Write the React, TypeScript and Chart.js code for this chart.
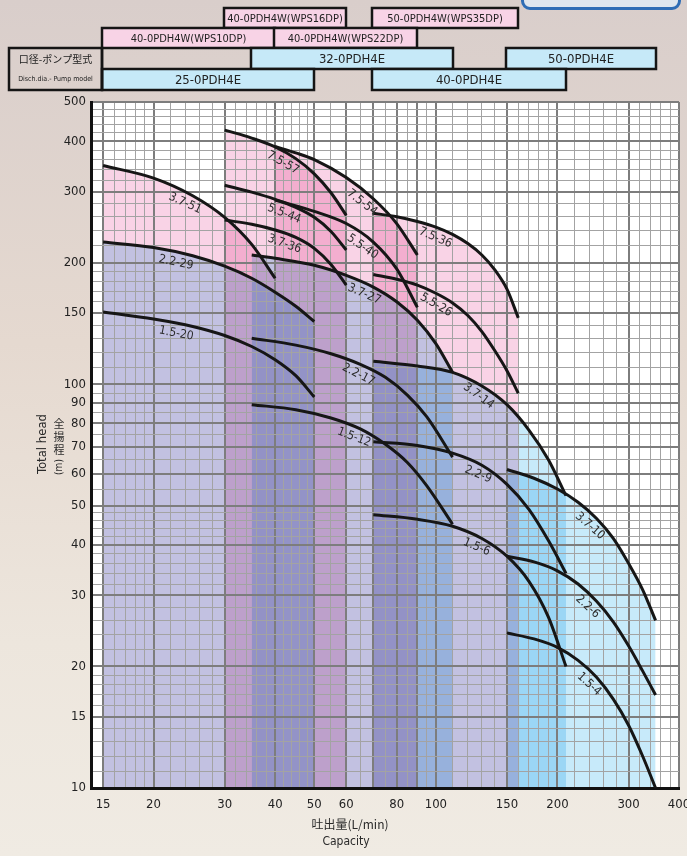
import React, { useEffect, useRef } from 'react';
import { Chart, registerables } from 'chart.js';

const FONT = "'Liberation Sans Narrow', 'DejaVu Sans Condensed', Roboto, 'Noto Sans CJK JP', sans-serif";
const CJK = "'Noto Sans CJK JP', 'Liberation Sans Narrow', Roboto, sans-serif";

// ---- axis grid / tick values ----
const xGridValues = [15, 16, 17, 18, 19, 20, 22, 24, 26, 28, 30, 32, 34, 36, 38, 40, 42, 44, 46, 48, 50, 55, 60, 65, 70, 75, 80, 85, 90, 95, 100, 110, 120, 130, 140, 150, 160, 170, 180, 190, 200, 220, 240, 260, 280, 300, 320, 340, 360, 380, 400];
const xTickLabels = [15, 20, 30, 40, 50, 60, 80, 100, 150, 200, 300, 400];
const xMajorLines = [15, 20, 30, 40, 50, 60, 70, 80, 90, 100, 150, 200, 300, 400];
const yGridValues = [10, 11, 12, 13, 14, 15, 16, 17, 18, 19, 20, 22, 24, 26, 28, 30, 32, 34, 36, 38, 40, 42, 44, 46, 48, 50, 55, 60, 65, 70, 75, 80, 85, 90, 95, 100, 110, 120, 130, 140, 150, 160, 170, 180, 190, 200, 220, 240, 260, 280, 300, 320, 340, 360, 380, 400, 420, 440, 460, 480, 500];
const yTickLabels = [10, 15, 20, 30, 40, 50, 60, 70, 80, 90, 100, 150, 200, 300, 400, 500];

// ---- pump curves: capacity (L/min) and total head (m) ----
const q_37_51 = [15, 20, 25, 30, 35, 40];
const h_37_51 = [348, 324, 293, 259, 222, 183];
const q_22_29 = [15, 20, 25, 30, 35, 40, 45, 50];
const h_22_29 = [225, 218, 208, 196, 183, 169, 156, 143];
const q_15_20 = [15, 20, 25, 30, 35, 40, 45, 50];
const h_15_20 = [151, 145, 139, 132, 124, 115, 105, 93];
const q_75_57 = [30, 35, 40, 45, 50, 55, 60];
const h_75_57 = [426, 407, 387, 362, 332, 298, 262];
const q_55_44 = [30, 35, 40, 45, 50, 55, 60];
const h_55_44 = [311, 299, 287, 274, 259, 239, 215];
const q_37_36 = [30, 35, 40, 45, 50, 55, 60];
const h_37_36 = [255, 249, 241, 231, 217, 198, 176];
const q_75_54 = [40, 45, 50, 60, 70, 80, 90];
const h_75_54 = [388, 374, 360, 325, 288, 250, 209];
const q_55_40 = [40, 50, 60, 70, 80, 90];
const h_55_40 = [286, 268, 250, 225, 193, 155];
const q_37_27 = [35, 40, 50, 60, 70, 80, 90, 100, 110];
const h_37_27 = [209, 205, 197, 186, 174, 160, 144, 126, 107];
const q_75_36 = [70, 80, 90, 100, 110, 120, 130, 140, 150, 160];
const h_75_36 = [265, 260, 253, 245, 235, 223, 209, 192, 172, 146];
const q_55_26 = [70, 80, 90, 100, 110, 120, 130, 140, 150, 160];
const h_55_26 = [187, 182, 176, 168, 159, 148, 135, 121, 108, 95];
const q_22_17 = [35, 45, 55, 65, 75, 85, 95, 110];
const h_22_17 = [130, 125, 119, 112, 104, 94, 83, 66];
const q_15_12 = [35, 45, 55, 65, 75, 85, 95, 110];
const h_15_12 = [89, 86.5, 82.5, 77.5, 71, 64, 56, 45];
const q_37_14 = [70, 90, 110, 130, 150, 170, 190, 210];
const h_37_14 = [114, 111, 107, 99, 89, 77, 65, 53];
const q_22_9 = [70, 90, 110, 130, 150, 170, 190, 210];
const h_22_9 = [72, 70.5, 67.5, 63, 56.5, 49, 41, 34];
const q_15_6 = [70, 90, 110, 130, 150, 170, 190, 210];
const h_15_6 = [47.5, 46.3, 44.5, 41.5, 37.5, 32.5, 26.5, 20];
const q_37_10 = [150, 175, 200, 225, 250, 275, 300, 325, 350];
const h_37_10 = [61.5, 58.5, 55, 51, 46.5, 41.5, 36, 31, 26];
const q_22_6 = [150, 175, 200, 225, 250, 275, 300, 325, 350];
const h_22_6 = [37.5, 36.3, 34.5, 32, 29, 25.8, 22.5, 19.5, 17];
const q_15_4 = [150, 175, 200, 225, 250, 275, 300, 325, 350];
const h_15_4 = [24.2, 23.4, 22.3, 20.7, 18.8, 16.6, 14.3, 12, 10];

// name, flows, heads, label anchor (capacity), shaded range kind ('' none, 'W' pink, 'E' blue)
const curveNames = ['3.7-51', '2.2-29', '1.5-20', '7.5-57', '5.5-44', '3.7-36', '7.5-54', '5.5-40', '3.7-27', '7.5-36', '5.5-26', '2.2-17', '1.5-12', '3.7-14', '2.2-9', '1.5-6', '3.7-10', '2.2-6', '1.5-4'];
const curveFlows = [q_37_51, q_22_29, q_15_20, q_75_57, q_55_44, q_37_36, q_75_54, q_55_40, q_37_27, q_75_36, q_55_26, q_22_17, q_15_12, q_37_14, q_22_9, q_15_6, q_37_10, q_22_6, q_15_4];
const curveHeads = [h_37_51, h_22_29, h_15_20, h_75_57, h_55_44, h_37_36, h_75_54, h_55_40, h_37_27, h_75_36, h_55_26, h_22_17, h_15_12, h_37_14, h_22_9, h_15_6, h_37_10, h_22_6, h_15_4];
const curveLabelAt = [24.5, 23, 23, 43, 43, 43, 68, 68, 68, 102, 103, 66, 64, 132, 130, 129, 250, 247, 249];
const curveRange = ['W', 'E', '', 'W', '', '', 'W', '', 'E', 'W', '', '', '', 'E', '', '', 'E', '', ''];

// ---- pump model ranges (header) ----
const modelNames = ['40-0PDH4W(WPS16DP)', '50-0PDH4W(WPS35DP)', '40-0PDH4W(WPS10DP)', '40-0PDH4W(WPS22DP)', '32-0PDH4E', '50-0PDH4E', '25-0PDH4E', '40-0PDH4E'];
const modelQMin = [30, 70, 15, 40, 35, 150, 15, 70];
const modelQMax = [60, 160, 40, 90, 110, 350, 50, 210];
const modelRow = [0, 0, 1, 1, 2, 2, 3, 3];
const modelKind = ['W', 'W', 'W', 'W', 'E', 'E', 'E', 'E'];

const PINK = 'rgb(249,211,230)';
const BLUE = 'rgb(199,234,250)';
const BOX_PINK = '#f8d3e6';
const BOX_BLUE = '#c6e9f8';

const multiplyOn = {
  id: 'aaMultiplyOn',
  beforeDraw(chart: any) {
    const { ctx, chartArea: a } = chart;
    ctx.save();
    ctx.fillStyle = '#ffffff';
    ctx.fillRect(a.left, a.top, a.right - a.left, a.bottom - a.top);
    ctx.restore();
    ctx.globalCompositeOperation = 'multiply';
  },
};
Chart.register(multiplyOn);
Chart.register(...registerables);

const multiplyOff = {
  id: 'multiplyOff',
  beforeDraw(chart: any) {
    chart.ctx.globalCompositeOperation = 'source-over';
  },
};

function pointOn(chart: any, di: number, q: number) {
  const pts = chart.getDatasetMeta(di).data;
  const px = chart.scales.x.getPixelForValue(q);
  for (let i = 0; i < pts.length - 1; i++) {
    const a = pts[i];
    const b = pts[i + 1];
    if (px >= a.x && px <= b.x) {
      const t = (px - a.x) / (b.x - a.x);
      return { x: px, y: a.y + (b.y - a.y) * t, ang: Math.atan2(b.y - a.y, b.x - a.x) };
    }
  }
  return null;
}

const decor = {
  id: 'decor',
  afterDatasetsDraw(chart: any) {
    const ctx = chart.ctx;
    ctx.save();
    ctx.fillStyle = '#2b2b2b';
    ctx.font = `12px ${FONT}`;
    ctx.textAlign = 'center';
    ctx.textBaseline = 'middle';
    curveNames.forEach((name, i) => {
      const p = pointOn(chart, i, curveLabelAt[i]);
      if (!p) return;
      const d = 10;
      const cx = p.x - Math.sin(p.ang) * d;
      const cy = p.y + Math.cos(p.ang) * d;
      ctx.save();
      ctx.translate(cx, cy);
      ctx.rotate(p.ang);
      ctx.fillText(name, 0, 0);
      ctx.restore();
    });
    ctx.restore();
  },
  afterDraw(chart: any) {
    const ctx = chart.ctx;
    const xs = chart.scales.x;
    const rowTop = [8, 28, 48, 69];
    const rowBot = [28, 48, 69, 90];
    ctx.save();
    // model boxes
    modelNames.forEach((name, i) => {
      const l = Math.round(xs.getPixelForValue(modelQMin[i])) - 1;
      const r = Math.round(xs.getPixelForValue(modelQMax[i]));
      const t = rowTop[modelRow[i]];
      const b = rowBot[modelRow[i]];
      ctx.fillStyle = modelKind[i] === 'W' ? BOX_PINK : BOX_BLUE;
      ctx.fillRect(l, t, r - l, b - t);
      ctx.strokeStyle = '#151515';
      ctx.lineWidth = 2.5;
      ctx.strokeRect(l, t, r - l, b - t);
      ctx.fillStyle = '#222';
      ctx.font = modelKind[i] === 'W' ? `11px ${FONT}` : `13px ${FONT}`;
      ctx.textAlign = 'center';
      ctx.textBaseline = 'middle';
      ctx.fillText(name, (l + r) / 2, (t + b) / 2 + 1);
    });
    // label box
    const lx = 9;
    const rx = Math.round(xs.getPixelForValue(15)) - 1;
    ctx.strokeStyle = '#151515';
    ctx.lineWidth = 2.5;
    ctx.strokeRect(lx, 48, rx - lx, 42);
    ctx.beginPath();
    ctx.moveTo(rx, 48);
    ctx.lineTo(rx, 90);
    ctx.stroke();
    ctx.fillStyle = '#222';
    ctx.textAlign = 'center';
    ctx.textBaseline = 'middle';
    ctx.font = `10px ${CJK}`;
    ctx.fillText('口径-ポンプ型式', (lx + rx) / 2, 59);
    ctx.font = `7px ${FONT}`;
    ctx.fillText('Disch.dia.- Pump model', (lx + rx) / 2, 79);

    // x axis title
    ctx.fillStyle = '#2a2a2a';
    ctx.font = `12px ${CJK}`;
    ctx.fillText('吐出量(L/min)', 350, 824);
    ctx.font = `12px ${FONT}`;
    ctx.fillText('Capacity', 346, 842);

    // y axis title
    ctx.save();
    ctx.translate(43, 444);
    ctx.rotate(-Math.PI / 2);
    ctx.font = `13px ${FONT}`;
    ctx.fillText('Total head', 0, 0);
    ctx.restore();
    ctx.font = `11px ${CJK}`;
    ['全', '揚', '程'].forEach((ch, k) => ctx.fillText(ch, 59, 424 + k * 13));
    ctx.save();
    ctx.translate(59, 467);
    ctx.rotate(-Math.PI / 2);
    ctx.font = `10px ${FONT}`;
    ctx.fillText('(m)', 0, 0);
    ctx.restore();
    ctx.restore();
  },
};

export default function App() {
  const ref = useRef<HTMLCanvasElement | null>(null);
  useEffect(() => {
    const canvas = ref.current;
    if (!canvas) return;
    const datasets = curveNames.map((name, i) => ({
      label: name,
      data: curveFlows[i].map((q, k) => ({ x: q, y: curveHeads[i][k] })),
      borderColor: '#161616',
      borderWidth: 3,
      pointRadius: 0,
      cubicInterpolationMode: 'monotone' as const,
      fill: curveRange[i] ? 'start' : false,
      backgroundColor: curveRange[i] === 'W' ? PINK : curveRange[i] === 'E' ? BLUE : 'transparent',
    }));
    const gridColor = (major: number[]) => (c: any) => (c.tick && major.includes(c.tick.value) ? '#7d7d7d' : '#a3a3a3');
    const gridWidth = (major: number[]) => (c: any) => (c.tick && major.includes(c.tick.value) ? 2 : 1);
    const chart = new Chart(canvas, {
      type: 'line',
      data: { datasets } as any,
      options: {
        animation: false,
        responsive: false,
        devicePixelRatio: 1,
        layout: { padding: { left: 51, top: 102, right: 8, bottom: 38 } },
        plugins: {
          legend: { display: false },
          tooltip: { enabled: false },
          filler: { drawTime: 'beforeDraw', propagate: false },
        } as any,
        scales: {
          x: {
            type: 'logarithmic',
            min: 14,
            max: 400,
            afterBuildTicks: (s: any) => {
              s.ticks = xGridValues.map((v) => ({ value: v }));
            },
            afterFit: (s: any) => {
              s.height = 30;
              s.paddingLeft = 0;
              s.paddingRight = 0;
            },
            ticks: {
              autoSkip: false,
              maxRotation: 0,
              minRotation: 0,
              padding: 9,
              color: '#222',
              font: { family: FONT, size: 13 },
              callback: (v: any) => (xTickLabels.includes(Number(v)) ? String(v) : ''),
            },
            grid: { drawTicks: false, color: gridColor(xMajorLines), lineWidth: gridWidth(xMajorLines) },
            border: { display: true, color: '#111', width: 3 },
          },
          y: {
            type: 'logarithmic',
            min: 10,
            max: 500,
            afterBuildTicks: (s: any) => {
              s.ticks = yGridValues.map((v) => ({ value: v }));
            },
            afterFit: (s: any) => {
              s.width = 40;
              s.paddingTop = 0;
              s.paddingBottom = 0;
            },
            ticks: {
              autoSkip: false,
              padding: 5,
              color: '#222',
              font: { family: FONT, size: 13 },
              callback: (v: any) => (yTickLabels.includes(Number(v)) ? String(v) : ''),
            },
            grid: { drawTicks: false, color: gridColor(yTickLabels), lineWidth: gridWidth(yTickLabels) },
            border: { display: true, color: '#111', width: 3 },
          },
        } as any,
      },
      plugins: [multiplyOff, decor],
    });
    return () => chart.destroy();
  }, []);

  return (
    <div
      style={{
        position: 'fixed',
        left: 0,
        top: 0,
        width: 687,
        height: 856,
        overflow: 'hidden',
        background: 'linear-gradient(180deg, #d9cecb 0%, #e5d9d0 40%, #ede6dd 75%, #f0ebe3 100%)',
      }}
    >
      <div
        style={{
          position: 'absolute',
          left: 521,
          top: -14,
          width: 154,
          height: 18,
          border: '3px solid #2f6db5',
          borderRadius: 9,
          background: '#dfe6ee',
        }}
      />
      <canvas ref={ref} width={687} height={856} style={{ position: 'absolute', left: 0, top: 0, display: 'block' }} />
    </div>
  );
}
